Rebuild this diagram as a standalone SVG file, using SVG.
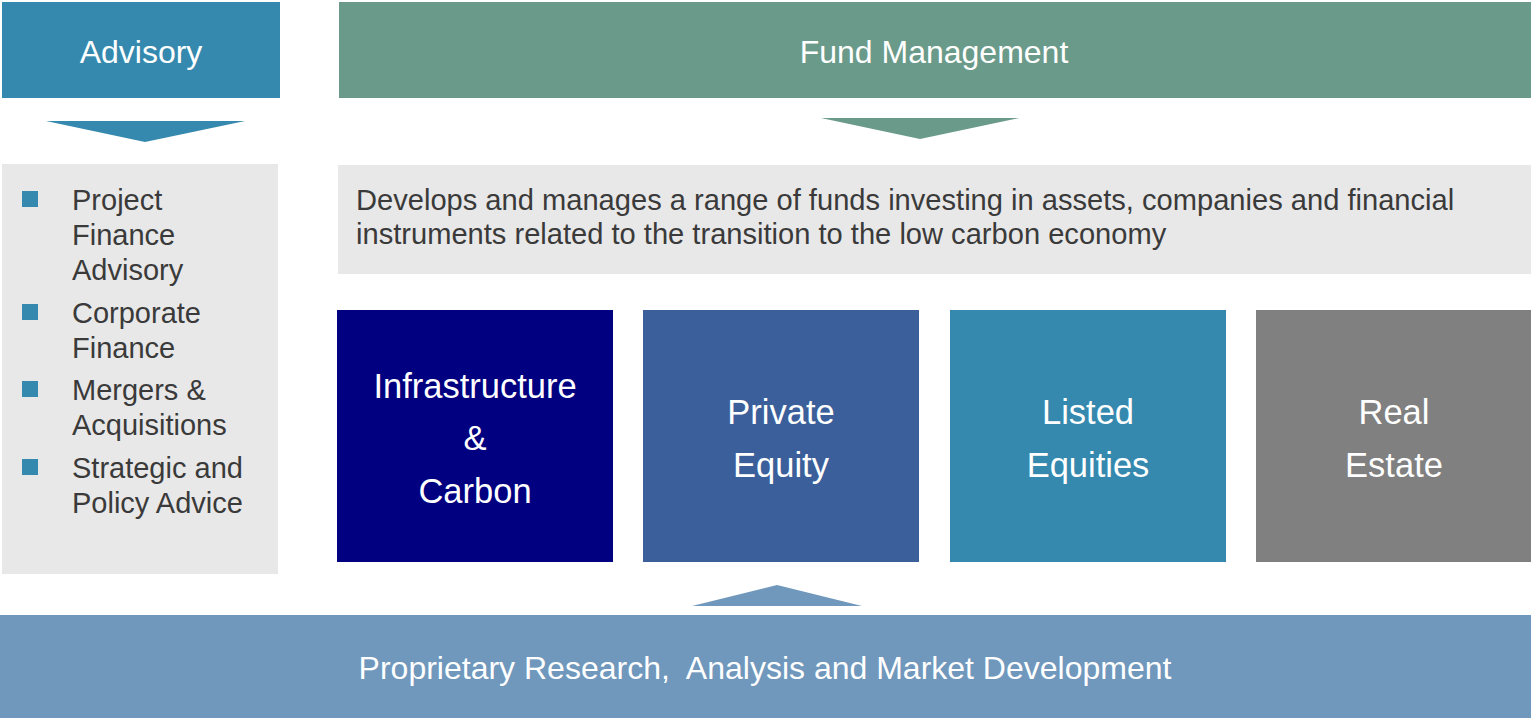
<svg xmlns="http://www.w3.org/2000/svg" width="1531" height="718" viewBox="0 0 1531 718">
<style>
text{font-family:"Liberation Sans",Arial,sans-serif;}
.w{fill:#ffffff;}
.d{fill:#3a3a3a;}
.hd{font-size:32px;text-anchor:middle;}
.bx{font-size:34.5px;text-anchor:middle;fill:#ffffff;}
.bl{font-size:29px;fill:#3a3a3a;}
.sq{fill:#3589AE;}
</style>
<rect width="1531" height="718" fill="#ffffff"/>
<g id="advisory">
<rect x="2" y="2" width="278" height="96" fill="#3589AE"/>
<text class="hd w" x="141" y="63">Advisory</text>
</g>
<g id="fund-management">
<rect x="339" y="2" width="1192" height="96" fill="#6A9A8A"/>
<text class="hd w" x="934" y="63">Fund Management</text>
</g>
<g id="advisory-list">
<rect x="2" y="164" width="276" height="410" fill="#E8E8E8"/>
<rect class="sq" x="22" y="191" width="16" height="16"/>
<rect class="sq" x="22" y="304" width="16" height="16"/>
<rect class="sq" x="22" y="381" width="16" height="16"/>
<rect class="sq" x="22" y="459" width="16" height="16"/>
<text class="bl" x="72" y="210">Project</text>
<text class="bl" x="72" y="245">Finance</text>
<text class="bl" x="72" y="280">Advisory</text>
<text class="bl" x="72" y="323">Corporate</text>
<text class="bl" x="72" y="358">Finance</text>
<text class="bl" x="72" y="400">Mergers &amp;</text>
<text class="bl" x="72" y="435">Acquisitions</text>
<text class="bl" x="72" y="478">Strategic and</text>
<text class="bl" x="72" y="513">Policy Advice</text>
</g>
<g id="description">
<rect x="338" y="165" width="1193" height="109" fill="#E8E8E8"/>
<text x="356" y="210" font-size="29.1" class="d">Develops and manages a range of funds investing in assets, companies and financial</text>
<text x="356" y="244" font-size="29.1" class="d">instruments related to the transition to the low carbon economy</text>
</g>
<g id="infrastructure">
<rect x="337" y="310" width="276" height="252" fill="#000080"/>
<text class="bx" x="475" y="398">Infrastructure</text>
<text class="bx" x="475" y="450">&amp;</text>
<text class="bx" x="475" y="503">Carbon</text>
</g>
<g id="private-equity">
<rect x="643" y="310" width="276" height="252" fill="#3A5F9A"/>
<text class="bx" x="781" y="424">Private</text>
<text class="bx" x="781" y="477">Equity</text>
</g>
<g id="listed-equities">
<rect x="950" y="310" width="276" height="252" fill="#3589AE"/>
<text class="bx" x="1088" y="424">Listed</text>
<text class="bx" x="1088" y="477">Equities</text>
</g>
<g id="real-estate">
<rect x="1256" y="310" width="275" height="252" fill="#808080"/>
<text class="bx" x="1394" y="424">Real</text>
<text class="bx" x="1394" y="477">Estate</text>
</g>
<g id="research">
<rect x="0" y="615" width="1531" height="103" fill="#7097BC"/>
<text class="hd w" x="765" y="679" font-size="32.3" xml:space="preserve">Proprietary Research,  Analysis and Market Development</text>
</g>
<g id="connectors">
<polygon points="46,121 245,121 145,142" fill="#3589AE"/>
<polygon points="821,118 1019,118 920,139" fill="#6A9A8A"/>
<polygon points="692,606 862,606 777,585" fill="#7097BC"/>
</g>
</svg>
